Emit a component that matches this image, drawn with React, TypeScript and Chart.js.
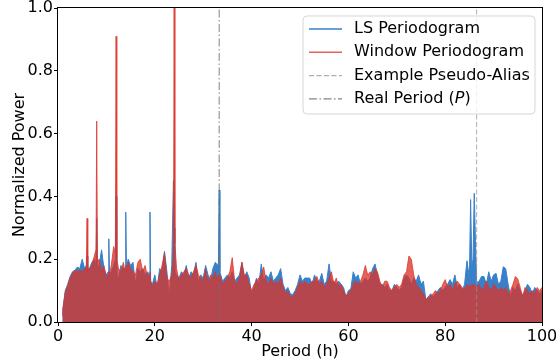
import React, { useEffect, useRef } from 'react';
import { Chart, registerables } from 'chart.js';

Chart.register(...registerables);

// ---------- data ----------
const periods = [
  0.9,
  1, 1.5, 2, 2.5, 3, 3.5, 4, 4.5, 5, 5.5,
  5.85, 6, 6.15, 6.5, 7, 7.5, 7.85, 8, 8.15, 8.5, 9, 9.5, 10, 10.35, 10.5, 10.65,
  11, 11.5, 11.85, 12, 12.15, 12.5, 13, 13.5, 13.85, 14, 14.15, 14.5, 15, 15.5,
  16, 16.5, 17, 17.5, 18, 18.5, 18.85, 19, 19.15, 19.5, 20, 20.5,
  21, 21.5, 22, 22.5, 23, 23.5, 23.85, 24, 24.15, 24.5, 25, 25.5,
  26, 26.5, 27, 27.5, 28, 28.5, 29, 29.5, 30, 30.5,
  31, 31.5, 32, 32.5, 33, 33.15, 33.3, 33.45, 34, 34.5, 35, 35.5,
  36, 36.5, 37, 37.5, 38, 38.5, 39, 39.5, 40, 40.5,
  41, 41.5, 42, 42.5, 43, 43.5, 44, 44.5, 45, 45.5,
  46, 46.5, 47, 47.5, 48, 48.5, 49, 49.5, 50, 50.5,
  51, 51.5, 52, 52.5, 53, 53.5, 54, 54.5, 55, 55.5,
  56, 56.5, 57, 57.5, 58, 58.5, 59, 59.5, 60, 60.5,
  61, 61.5, 62, 62.5, 63, 63.5, 64, 64.5, 65, 65.5,
  66, 66.5, 67, 67.5, 68, 68.5, 69, 69.5, 70, 70.5,
  71, 71.5, 72, 72.5, 73, 73.5, 74, 74.5, 75, 75.5,
  76, 76.5, 77, 77.5, 78, 78.5, 79, 79.5, 80, 80.5,
  81, 81.5, 82, 82.5, 83, 83.5, 84, 84.5, 85, 85.25, 85.5, 85.75, 86, 86.25, 86.5,
  87, 87.5, 88, 88.5, 89, 89.5, 90, 90.5, 91, 91.5, 92, 92.5, 93, 93.5,
  94, 94.5, 95, 95.5, 96, 96.5, 97, 97.5, 98, 98.5, 99, 99.5, 100,
];

const lsPower = [
  0.02,
  0.04, 0.10, 0.12, 0.145, 0.16, 0.165, 0.175, 0.17, 0.20, 0.17,
  0.18, 0.21, 0.17, 0.17, 0.19, 0.20, 0.18, 0.33, 0.17, 0.18, 0.23, 0.17, 0.15, 0.16, 0.265, 0.15,
  0.16, 0.18, 0.20, 0.40, 0.15, 0.14, 0.18, 0.17, 0.17, 0.35, 0.17, 0.20, 0.18, 0.19,
  0.12, 0.17, 0.16, 0.17, 0.15, 0.16, 0.15, 0.35, 0.13, 0.12, 0.15, 0.11,
  0.17, 0.16, 0.225, 0.16, 0.08, 0.18, 0.45, 0.30, 0.16, 0.15, 0.14, 0.16,
  0.15, 0.18, 0.14, 0.16, 0.15, 0.19, 0.13, 0.15, 0.14, 0.18,
  0.15, 0.13, 0.17, 0.19, 0.18, 0.19, 0.42, 0.16, 0.13, 0.14, 0.15, 0.14,
  0.16, 0.13, 0.14, 0.15, 0.19, 0.14, 0.16, 0.14, 0.09, 0.11,
  0.14, 0.12, 0.185, 0.13, 0.15, 0.14, 0.16, 0.13, 0.14, 0.15,
  0.17, 0.12, 0.10, 0.11, 0.09, 0.087, 0.10, 0.12, 0.15, 0.13,
  0.14, 0.14, 0.14, 0.12, 0.15, 0.13, 0.13, 0.155, 0.12, 0.13,
  0.185, 0.13, 0.13, 0.12, 0.13, 0.12, 0.11, 0.08, 0.10, 0.105,
  0.16, 0.14, 0.15, 0.12, 0.13, 0.14, 0.13, 0.14, 0.17, 0.185,
  0.15, 0.12, 0.12, 0.11, 0.12, 0.10, 0.10, 0.12, 0.11, 0.10,
  0.11, 0.14, 0.15, 0.14, 0.12, 0.14, 0.13, 0.15, 0.12, 0.13,
  0.07, 0.08, 0.09, 0.08, 0.09, 0.10, 0.11, 0.10, 0.11, 0.12,
  0.135, 0.12, 0.15, 0.11, 0.12, 0.10, 0.12, 0.195, 0.14, 0.39, 0.18, 0.20, 0.41, 0.26, 0.125,
  0.13, 0.145, 0.145, 0.12, 0.16, 0.13, 0.15, 0.155, 0.12, 0.13, 0.176, 0.17, 0.12, 0.08,
  0.11, 0.10, 0.12, 0.10, 0.085, 0.10, 0.12, 0.11, 0.09, 0.11, 0.10, 0.09, 0.10,
];

const windowPower = [
  0.02,
  0.04, 0.095, 0.115, 0.14, 0.155, 0.165, 0.16, 0.165, 0.16, 0.17,
  0.17, 0.33, 0.16, 0.17, 0.18, 0.21, 0.23, 0.64, 0.19, 0.20, 0.16, 0.18, 0.14, 0.15, 0.16, 0.15,
  0.18, 0.24, 0.22, 0.91, 0.20, 0.17, 0.16, 0.19, 0.16, 0.18, 0.16, 0.19, 0.17, 0.16,
  0.15, 0.19, 0.20, 0.16, 0.18, 0.14, 0.15, 0.16, 0.13, 0.11, 0.13, 0.12,
  0.15, 0.18, 0.22, 0.14, 0.13, 0.15, 0.20, 1.0, 0.25, 0.17, 0.13, 0.15,
  0.16, 0.17, 0.15, 0.14, 0.16, 0.18, 0.15, 0.14, 0.13, 0.17,
  0.12, 0.15, 0.14, 0.16, 0.13, 0.15, 0.14, 0.15, 0.12, 0.13, 0.14, 0.16,
  0.205, 0.13, 0.12, 0.14, 0.19, 0.15, 0.15, 0.12, 0.10, 0.12,
  0.13, 0.14, 0.15, 0.175, 0.13, 0.12, 0.14, 0.12, 0.13, 0.12,
  0.14, 0.11, 0.09, 0.10, 0.08, 0.08, 0.09, 0.11, 0.13, 0.12,
  0.13, 0.12, 0.12, 0.13, 0.13, 0.145, 0.12, 0.13, 0.11, 0.12,
  0.14, 0.16, 0.12, 0.14, 0.11, 0.12, 0.10, 0.083, 0.09, 0.10,
  0.12, 0.13, 0.12, 0.13, 0.15, 0.18, 0.15, 0.16, 0.15, 0.17,
  0.16, 0.13, 0.11, 0.13, 0.13, 0.11, 0.10, 0.11, 0.12, 0.11,
  0.12, 0.15, 0.16, 0.21, 0.20, 0.15, 0.12, 0.11, 0.10, 0.09,
  0.07, 0.08, 0.08, 0.09, 0.10, 0.09, 0.10, 0.12, 0.135, 0.11,
  0.12, 0.10, 0.12, 0.13, 0.12, 0.11, 0.10, 0.12, 0.11, 0.12, 0.11, 0.12, 0.12, 0.11, 0.11,
  0.12, 0.10, 0.11, 0.13, 0.11, 0.10, 0.12, 0.11, 0.10, 0.11, 0.10, 0.11, 0.09, 0.10,
  0.12, 0.145, 0.137, 0.11, 0.08, 0.11, 0.10, 0.09, 0.10, 0.09, 0.11, 0.10, 0.11,
];

const REAL_PERIOD = 33.3;
const ALIAS_PERIOD = 86.5;

const xTicks = [0, 20, 40, 60, 80, 100];
const yTicks = [0, 0.2, 0.4, 0.6, 0.8, 1.0];

const labels = ['LS Periodogram', 'Window Periodogram', 'Example Pseudo-Alias', 'Real Period (P)'];
const xTitle = 'Period (h)';
const yTitle = 'Normalized Power';

// ---------- styles ----------
const FONT = 'DejaVu Sans';
const BLUE = '#3a80c8';
const RED = 'rgba(219,52,41,0.77)';
const ALIAS_COLOR = 'rgba(150,150,150,0.75)';
const REAL_COLOR = 'rgba(110,110,110,0.85)';

const framePlugin = {
  id: 'frame',
  afterDatasetsDraw(chart: any) {
    const { ctx, chartArea: a } = chart;
    ctx.save();
    ctx.strokeStyle = '#000';
    ctx.lineWidth = 1;
    ctx.strokeRect(Math.round(a.left) - 0.5, Math.round(a.top) - 0.5, Math.round(a.right - a.left) + 1, Math.round(a.bottom - a.top) + 1);
    ctx.restore();
  },
};

const legendPlugin = {
  id: 'mplLegend',
  afterDraw(chart: any) {
    const { ctx, chartArea: a } = chart;
    const w = 232;
    const h = 98;
    const x = a.right - 7 - w;
    const y = a.top + 8;
    const r = 4;
    ctx.save();
    ctx.beginPath();
    ctx.moveTo(x + r, y);
    ctx.lineTo(x + w - r, y);
    ctx.arcTo(x + w, y, x + w, y + r, r);
    ctx.lineTo(x + w, y + h - r);
    ctx.arcTo(x + w, y + h, x + w - r, y + h, r);
    ctx.lineTo(x + r, y + h);
    ctx.arcTo(x, y + h, x, y + h - r, r);
    ctx.lineTo(x, y + r);
    ctx.arcTo(x, y, x + r, y, r);
    ctx.closePath();
    ctx.fillStyle = 'rgba(255,255,255,0.8)';
    ctx.fill();
    ctx.strokeStyle = 'rgba(204,204,204,0.8)';
    ctx.lineWidth = 1;
    ctx.stroke();

    const ds = chart.data.datasets;
    const rowH = 23.3;
    ctx.textBaseline = 'middle';
    ctx.fillStyle = '#000';
    for (let i = 0; i < ds.length; i++) {
      const d = ds[i];
      const ly = y + 13 + i * rowH;
      ctx.beginPath();
      ctx.setLineDash(d.borderDash || []);
      ctx.strokeStyle = d.borderColor;
      ctx.lineWidth = 1.4;
      ctx.moveTo(x + 6, ly);
      ctx.lineTo(x + 39, ly);
      ctx.stroke();
      ctx.setLineDash([]);
      const label: string = d.label;
      let tx = x + 51;
      const m = label.match(/^(.*\()(P)(\).*)$/);
      if (m) {
        ctx.font = `16px "${FONT}"`;
        ctx.fillText(m[1], tx, ly);
        tx += ctx.measureText(m[1]).width;
        ctx.font = `italic 16px "${FONT}"`;
        ctx.fillText(m[2], tx, ly);
        tx += ctx.measureText(m[2]).width;
        ctx.font = `16px "${FONT}"`;
        ctx.fillText(m[3], tx, ly);
      } else {
        ctx.font = `16px "${FONT}"`;
        ctx.fillText(label, tx, ly);
      }
    }
    ctx.restore();
  },
};

export default function App() {
  const ref = useRef<HTMLCanvasElement | null>(null);

  useEffect(() => {
    if (!ref.current) return;
    Chart.defaults.font.family = FONT;
    Chart.defaults.font.size = 16;
    Chart.defaults.color = '#000';

    const ls = periods.map((p, i) => ({ x: p, y: lsPower[i] }));
    const win = periods.map((p, i) => ({ x: p, y: windowPower[i] }));

    const chart = new Chart(ref.current, {
      type: 'line',
      data: {
        datasets: [
          {
            label: labels[0],
            data: ls,
            borderColor: BLUE,
            backgroundColor: BLUE,
            borderWidth: 1,
            fill: 'origin',
            pointRadius: 0,
            tension: 0,
            order: 4,
          },
          {
            label: labels[1],
            data: win,
            borderColor: RED,
            backgroundColor: RED,
            borderWidth: 1,
            fill: 'origin',
            pointRadius: 0,
            tension: 0,
            order: 3,
          },
          {
            label: labels[2],
            data: [{ x: ALIAS_PERIOD, y: yTicks[0] }, { x: ALIAS_PERIOD, y: yTicks[yTicks.length - 1] }],
            borderColor: ALIAS_COLOR,
            borderWidth: 1,
            borderDash: [5, 2.5],
            pointRadius: 0,
            fill: false,
            order: 2,
          },
          {
            label: labels[3],
            data: [{ x: REAL_PERIOD, y: yTicks[0] }, { x: REAL_PERIOD, y: yTicks[yTicks.length - 1] }],
            borderColor: REAL_COLOR,
            borderWidth: 1,
            borderDash: [8, 2.5, 1.5, 2.5],
            pointRadius: 0,
            fill: false,
            order: 1,
          },
        ],
      },
      options: {
        animation: false,
        responsive: false,
        devicePixelRatio: 1,
        events: [],
        layout: { padding: { top: 8, right: 14, left: 0, bottom: 0 } },
        plugins: {
          legend: { display: false },
          tooltip: { enabled: false },
        },
        scales: {
          x: {
            type: 'linear',
            min: xTicks[0],
            max: xTicks[xTicks.length - 1],
            afterBuildTicks: (s: any) => {
              s.ticks = xTicks.map((v) => ({ value: v }));
            },
            afterFit: (s: any) => {
              s.height = 42;
              s.paddingLeft = 0;
              s.paddingRight = 0;
            },
            border: { display: false },
            grid: { drawOnChartArea: false, drawTicks: true, tickLength: 4, color: '#000' },
            ticks: { padding: 1, color: '#000', font: { size: 16, family: FONT }, maxRotation: 0, callback: (v: any) => String(v) },
            title: { display: true, text: xTitle, color: '#000', font: { size: 16, family: FONT }, padding: { top: 0, bottom: 3 } },
          },
          y: {
            type: 'linear',
            min: yTicks[0],
            max: yTicks[yTicks.length - 1],
            afterBuildTicks: (s: any) => {
              s.ticks = yTicks.map((v) => ({ value: v }));
            },
            afterFit: (s: any) => {
              s.width = 58;
              s.paddingTop = 0;
              s.paddingBottom = 0;
            },
            border: { display: false },
            grid: { drawOnChartArea: false, drawTicks: true, tickLength: 4, color: '#000' },
            ticks: { padding: 1, color: '#000', font: { size: 16, family: FONT }, callback: (v: any) => Number(v).toFixed(1) },
            title: { display: true, text: yTitle, color: '#000', font: { size: 16, family: FONT }, padding: { top: 10, bottom: 0 } },
          },
        },
      },
      plugins: [framePlugin, legendPlugin],
    } as any);

    return () => chart.destroy();
  }, []);

  return (
    <div style={{ position: 'absolute', left: 0, top: 0, width: 556, height: 364, background: '#fff' }}>
      <canvas ref={ref} width={556} height={364} style={{ display: 'block', width: 556, height: 364 }} />
    </div>
  );
}
